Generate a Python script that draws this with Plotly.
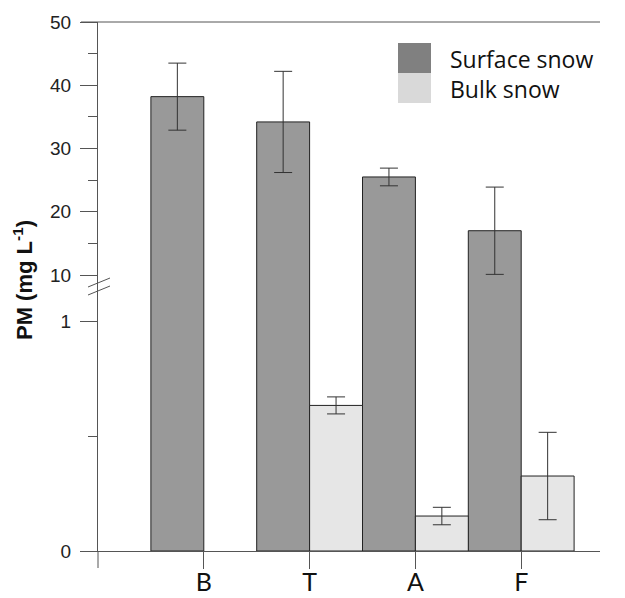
import plotly.graph_objects as go

categories = ["B", "T", "A", "F"]
surface = [38.2, 34.2, 25.5, 17.0]
surface_err = [5.3, 8.0, 1.4, 6.9]
bulk = [None, 0.633, 0.152, 0.326]
bulk_err = [None, 0.037, 0.038, 0.19]
series_names = ["Surface snow", "Bulk snow"]

W, H = 625, 598
ML, MR, MT, MB = 98, 25, 22, 47
PW, PH = W - ML - MR, H - MT - MB
BOTTOM = H - MB
def fx(px): return (px - ML) / PW
def fy(py): return (BOTTOM - py) / PH

# panel split (overlap by a couple of pixels to avoid a seam)
LOW_TOP_PY, UP_BOT_PY = 295, 299
PX_PER_LOW = 230.0      # pixels per unit, lower panel
PX_PER_UP = 6.325       # pixels per unit, upper panel
Y10_PY = 275

xpos = list(range(1, len(categories) + 1))
line_col = "#555555"
bar_line = dict(color="#222222", width=1)

fig = go.Figure()
fig.add_trace(go.Bar(x=xpos, y=surface, width=0.5, offset=-0.5, marker=dict(color="#999999", line=bar_line),
                     yaxis="y", showlegend=False, name=series_names[0]))
fig.add_trace(go.Bar(x=xpos, y=bulk, width=0.5, offset=0, marker=dict(color="#e6e6e6", line=bar_line),
                     error_y=dict(type="data", array=bulk_err, color="#333333", thickness=1, width=9),
                     yaxis="y", showlegend=False, name=series_names[1]))
fig.add_trace(go.Bar(x=xpos, y=surface, width=0.5, offset=-0.5, marker=dict(color="#999999", line=bar_line),
                     error_y=dict(type="data", array=surface_err, color="#333333", thickness=1, width=9),
                     yaxis="y2", showlegend=False, name=series_names[0]))

lower_top = (BOTTOM - LOW_TOP_PY) / PX_PER_LOW
upper_bottom = 10 - (UP_BOT_PY - Y10_PY) / PX_PER_UP

tickfont = dict(family="Liberation Sans, Arial", size=19, color="#222222")
fig.update_layout(
    width=W, height=H, margin=dict(l=ML, r=MR, t=MT, b=MB, autoexpand=False),
    paper_bgcolor="white", plot_bgcolor="white",
    barmode="overlay",
    xaxis=dict(range=[0, (600 - 98) / 105.8], tickvals=xpos, ticktext=categories,
               showgrid=False, zeroline=False, showline=True, linecolor=line_col, linewidth=1,
               ticks="outside", ticklen=17, tickcolor=line_col, automargin=False,
               ticklabelstandoff=-8,
               tickfont=dict(family="Lato, Open Sans", size=25, color="#111111"), anchor="y"),
    yaxis=dict(domain=[0, fy(LOW_TOP_PY)], range=[0, lower_top], tick0=0, dtick=1,
               minor=dict(dtick=0.5, ticks="outside", ticklen=9, tickcolor=line_col),
               showgrid=False, zeroline=False, showline=True, linecolor=line_col, linewidth=1,
               ticks="outside", ticklen=17, tickcolor=line_col, tickfont=tickfont, automargin=False,
               ticklabelstandoff=5),
    yaxis2=dict(domain=[fy(UP_BOT_PY), 1], range=[upper_bottom, 50], tick0=0, dtick=10,
                minor=dict(dtick=5, ticks="outside", ticklen=9, tickcolor=line_col),
                showgrid=False, zeroline=False, showline=True, linecolor=line_col, linewidth=1,
                ticks="outside", ticklen=17, tickcolor=line_col, tickfont=tickfont, anchor="x",
                automargin=False, ticklabelstandoff=5),
)

shapes = []
# top border
shapes.append(dict(type="line", xref="paper", yref="paper", x0=fx(81), x1=1, y0=1, y1=1,
                   line=dict(color=line_col, width=1)))
# y-axis line continues below the origin
shapes.append(dict(type="line", xref="paper", yref="paper", x0=0, x1=0, y0=0, y1=fy(BOTTOM + 17),
                   line=dict(color=line_col, width=1)))
# axis-break marks
for dy in (0, 8):
    shapes.append(dict(type="line", xref="paper", yref="paper",
                       x0=fx(88), y0=fy(287 + dy), x1=fx(110), y1=fy(278 + dy),
                       line=dict(color=line_col, width=1)))
# legend squares
leg_cols = ["#808080", "#d9d9d9"]
for i, c in enumerate(leg_cols):
    shapes.append(dict(type="rect", xref="paper", yref="paper",
                       x0=fx(398), x1=fx(431), y0=fy(43 + 30 * i), y1=fy(73 + 30 * i),
                       fillcolor=c, line=dict(width=0)))
fig.update_layout(shapes=shapes)

annotations = []
for i, name in enumerate(series_names):
    annotations.append(dict(xref="paper", yref="paper", x=fx(448), y=fy(59 + 30 * i), text=name,
                            showarrow=False, xanchor="left", yanchor="middle",
                            font=dict(family="Open Sans, Lato", size=23, color="#111111")))
annotations.append(dict(xref="paper", yref="paper", x=fx(23), y=fy(280), text="<b>PM (mg L<sup>-1</sup>)</b>",
                        showarrow=False, textangle=-90, xanchor="center", yanchor="middle",
                        font=dict(family="Liberation Sans, Arial", size=22, color="#111111")))
fig.update_layout(annotations=annotations)

fig.write_html("out.html")
